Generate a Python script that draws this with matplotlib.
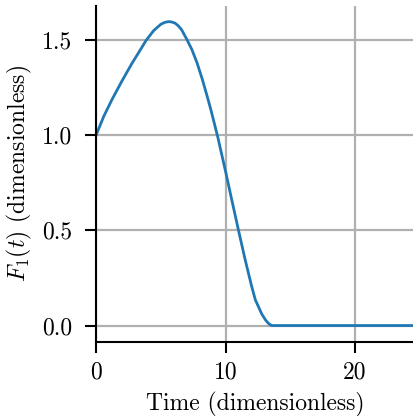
import numpy as np
import matplotlib
matplotlib.use('Agg')
import matplotlib.pyplot as plt

# values
time = [0, 0.6, 1.25, 2.0, 2.75, 3.45, 3.85, 4.45, 4.75, 5.0, 5.3, 5.6, 5.85,
        6.1, 6.35, 6.6, 7.0, 7.4, 7.8, 8.2, 8.6, 8.9, 9.4, 10.0, 10.4, 11.0,
        11.5, 12.0, 12.3, 12.8, 13.1, 13.3, 13.55, 14.0, 24.5]
F1 = [1.0, 1.1, 1.19, 1.285, 1.375, 1.452, 1.497, 1.55, 1.568, 1.583, 1.593,
      1.597, 1.595, 1.589, 1.575, 1.555, 1.505, 1.45, 1.38, 1.295, 1.2, 1.125,
      0.99, 0.81, 0.685, 0.50, 0.35, 0.21, 0.135, 0.06, 0.028, 0.012, 0.0,
      0.0, 0.0]
xticks = [0, 10, 20]
yticks = [0.0, 0.5, 1.0, 1.5]

plt.rcParams['font.family'] = 'serif'
plt.rcParams['font.serif'] = ['cmr10']
plt.rcParams['mathtext.fontset'] = 'cm'
plt.rcParams['axes.formatter.use_mathtext'] = True
plt.rcParams['font.size'] = 17

fig = plt.figure(figsize=(4.14, 4.16), dpi=100)
ax = fig.add_axes([0.232, 0.179, 0.768, 0.807])

ax.plot(time, F1, color='#1f77b4', lw=2)

ax.set_xlim(0, 24.55)
ax.set_ylim(-0.084, 1.68)
ax.set_xticks(xticks)
ax.set_yticks(yticks)
ax.set_xticklabels([str(v) for v in xticks])
ax.set_yticklabels(['%.1f' % v for v in yticks])
ax.grid(True, color='#b0b0b0', lw=1.6)
ax.set_axisbelow(True)

ax.spines['right'].set_visible(False)
ax.spines['top'].set_visible(False)
ax.spines['left'].set_linewidth(1.5)
ax.spines['bottom'].set_linewidth(1.5)
ax.tick_params(length=8, width=1.5)
ax.tick_params(axis='y', pad=9)
ax.tick_params(axis='x', pad=6)

ax.set_xlabel('Time (dimensionless)', labelpad=6)
ax.set_ylabel('$F_1(t)$ (dimensionless)', labelpad=6)

fig.savefig('out.png', dpi=100)
